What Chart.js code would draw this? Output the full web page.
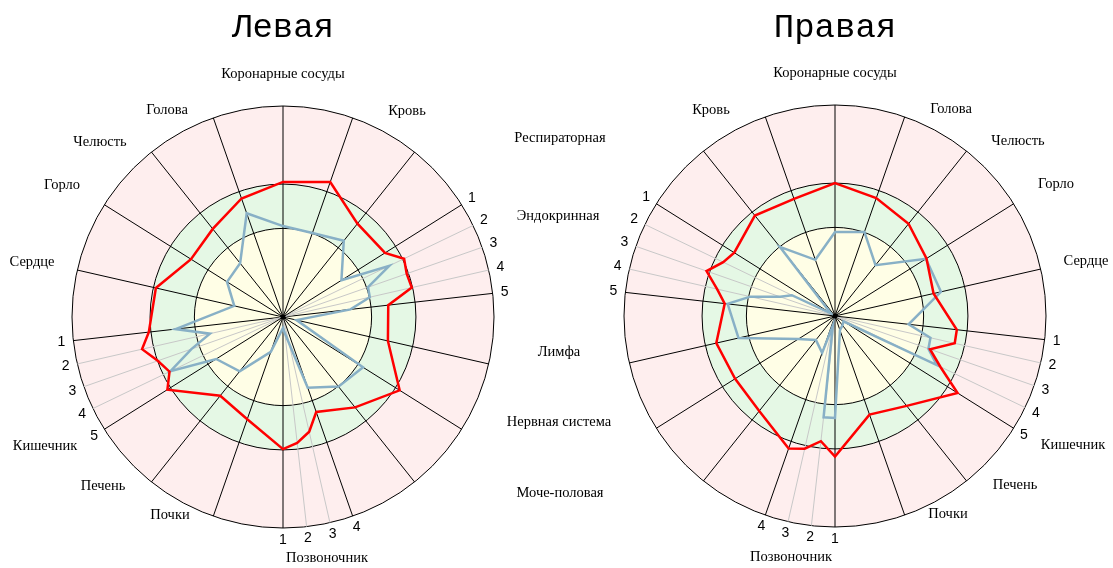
<!DOCTYPE html>
<html>
<head>
<meta charset="utf-8">
<script src="https://cdn.jsdelivr.net/npm/chart.js@4.4.1/dist/chart.umd.min.js"></script>
<style>
    html, body { margin: 0; padding: 0; background: #fff; }
    #wrap { position: relative; width: 1113px; height: 568px; }
    #wrap canvas { position: absolute; left: 0; top: 0; }
</style>
</head>
<body>
<div id="wrap">
    <canvas id="leftChart" width="1113" height="568"></canvas>
    <canvas id="rightChart" width="1113" height="568"></canvas>
</div>
<script>
// Organs in clockwise order for the left chart (the right one is mirrored)
const organs = ['Коронарные сосуды', 'Кровь', 'Респираторная', 'Эндокринная', 'Лимфа',
    'Нервная система', 'Моче-половая', 'Позвоночник', 'Почки', 'Печень', 'Кишечник',
    'Сердце', 'Горло', 'Челюсть', 'Голова'];

// Organs split into numbered sub-axes
const subAxes = {
    'Эндокринная': ['1', '2', '3', '4', '5'],
    'Позвоночник': ['4', '3', '2', '1'],
    'Кишечник': ['5', '4', '3', '2', '1']
};

// Ring borders of the zones (yellow / green / pink), scale 0..100
const zones = [42, 63, 100];

// Values per axis, same order as the axes built from organs/subAxes (26 axes)
const leftRed = [64, 67.8, 56.6, 57.1, 63.7, 62.1, 62.6, 50.2, 51, 65.3, 54.8, 47.7, 55.8,
    60.1, 62.6, 51.3, 47.7, 64.7, 59.7, 62.9, 68.5, 64, 61.8, 51.5, 53.4, 59.5];
const leftBlue = [43.1, 42.2, 46.2, 32.7, 55.9, 42.7, 42.2, 32.2, 6.6, 44.8, 42.2, 35.5, 12.8,
    7.6, 5.2, 17.5, 32.9, 37.4, 59.2, 46, 35.5, 51.2, 23.7, 31.3, 32.6, 52.1];
const rightRed = [63, 58.8, 60.9, 56.4, 58.8, 64.5, 57.3, 52.6, 57.7, 55.9, 57.6, 66.5, 64.5,
    59.7, 66.6, 49.5, 54.5, 68.6, 55.4, 47.7, 58.2, 58.1, 47.9, 51.2, 55.9, 59.2];
const rightBlue = [39.8, 28.2, 41.9, 2.4, 22.7, 27.5, 41.2, 51.2, 46.9, 20.4, 14.5, 18.5, 4.7,
    48.3, 48.3, 7.1, 5.7, 4.7, 53.6, 46.9, 46.4, 35.1, 51.5, 50.9, 30.8, 42.2];

// Build the axes: each organ takes 3 angular steps, sub-axes one step each
const axes = [];
let slot = 0;
organs.forEach(name => {
    const subs = subAxes[name] || [''];
    subs.forEach((sub, i) => {
        axes.push({ name: name, sub: sub, slot: slot, inner: i > 0 && i < subs.length - 1 });
        slot += (i === subs.length - 1) ? 3 : 1;
    });
});
const SLOTS = slot;

// Label offsets from the centre of the left chart (mirrored for the right one)
const labelOffsets = {
    'Коронарные сосуды': [0, -243], 'Кровь': [124, -206], 'Респираторная': [277, -179],
    'Эндокринная': [275, -101], 'Лимфа': [276, 35], 'Нервная система': [276, 105],
    'Моче-половая': [277, 176], 'Позвоночник': [44, 241], 'Почки': [-113, 198],
    'Печень': [-180, 169], 'Кишечник': [-238, 129], 'Сердце': [-251, -55],
    'Горло': [-221, -132], 'Челюсть': [-183, -175], 'Голова': [-116, -207]
};
const middleLabels = ['Респираторная', 'Эндокринная', 'Лимфа', 'Нервная система', 'Моче-половая'];

function slotOf(axis, mirrored) {
    return mirrored ? (SLOTS - axis.slot) % SLOTS : axis.slot;
}

function toSlots(values, mirrored) {
    const out = new Array(SLOTS).fill(null);
    axes.forEach((a, i) => { out[slotOf(a, mirrored)] = values[i]; });
    return out;
}

function lineStyles(mirrored) {
    const styles = new Array(SLOTS).fill(null);
    axes.forEach(a => { styles[slotOf(a, mirrored)] = a.inner ? 'sub' : 'main'; });
    return styles;
}

const zonesPlugin = {
    id: 'zones',
    beforeDraw(chart) {
        const r = chart.scales.r;
        const ctx = chart.ctx;
        const colors = ['#fffee6', '#e5f8e5', '#feeeee'];
        ctx.save();
        for (let i = zones.length - 1; i >= 0; i--) {
            ctx.beginPath();
            ctx.arc(r.xCenter, r.yCenter, r.getDistanceFromCenterForValue(zones[i]), 0, Math.PI * 2);
            ctx.fillStyle = colors[i];
            ctx.fill();
        }
        ctx.restore();
    }
};

const textPlugin = {
    id: 'texts',
    afterDraw(chart, args, opts) {
        const r = chart.scales.r;
        const ctx = chart.ctx;
        const sign = opts.mirrored ? -1 : 1;
        ctx.save();

        // dark hub where all the spokes meet
        ctx.fillStyle = '#000';
        ctx.beginPath();
        ctx.arc(r.xCenter, r.yCenter, 2.5, 0, Math.PI * 2);
        ctx.fill();

        ctx.textAlign = 'center';
        ctx.textBaseline = 'middle';

        ctx.font = '34px "Liberation Mono"';
        ctx.fillText(opts.title, r.xCenter, 28);

        ctx.font = '14.5px "Liberation Serif"';
        organs.forEach(name => {
            if (opts.mirrored && middleLabels.includes(name)) return;
            const off = labelOffsets[name];
            ctx.fillText(name, r.xCenter + sign * off[0], r.yCenter + off[1]);
        });

        ctx.font = '14px "Liberation Sans"';
        const outer = r.getDistanceFromCenterForValue(zones[zones.length - 1]);
        axes.forEach(a => {
            if (!a.sub) return;
            const p = r.getPointPosition(slotOf(a, opts.mirrored), outer + 12);
            ctx.fillText(a.sub, p.x, p.y);
        });
        ctx.restore();
    }
};

function makeChart(canvasId, title, red, blue, mirrored, padding) {
    const styles = lineStyles(mirrored);
    return new Chart(document.getElementById(canvasId), {
        type: 'radar',
        data: {
            labels: new Array(SLOTS).fill(''),
            datasets: [
                {
                    label: 'red',
                    data: toSlots(red, mirrored),
                    borderColor: '#ff0000',
                    borderWidth: 2.5,
                    pointRadius: 0,
                    fill: false,
                    spanGaps: true,
                    tension: 0
                },
                {
                    label: 'blue',
                    data: toSlots(blue, mirrored),
                    borderColor: '#88b0c6',
                    borderWidth: 2.5,
                    pointRadius: 0,
                    fill: false,
                    spanGaps: true,
                    tension: 0
                }
            ]
        },
        options: {
            responsive: false,
            animation: false,
            events: [],
            layout: { padding: padding },
            plugins: {
                legend: { display: false },
                tooltip: { enabled: false },
                texts: { title: title, mirrored: mirrored }
            },
            scales: {
                r: {
                    min: 0,
                    max: 100,
                    afterBuildTicks: scale => {
                        scale.ticks = [0].concat(zones).map(v => ({ value: v }));
                    },
                    ticks: { display: false },
                    pointLabels: { display: false },
                    grid: { circular: true, color: '#000', lineWidth: 1 },
                    angleLines: {
                        display: true,
                        color: ctx => styles[ctx.index] === 'main' ? '#000'
                            : styles[ctx.index] === 'sub' ? '#c8c8c8' : 'rgba(0,0,0,0)',
                        lineWidth: ctx => styles[ctx.index] ? 1 : 0
                    }
                }
            }
        },
        plugins: [zonesPlugin, textPlugin]
    });
}

makeChart('leftChart', 'Левая', leftRed, leftBlue, false,
    { left: 72, right: 619, top: 106, bottom: 40 });
makeChart('rightChart', 'Правая', rightRed, rightBlue, true,
    { left: 624, right: 67, top: 105, bottom: 41 });
</script>
</body>
</html>
